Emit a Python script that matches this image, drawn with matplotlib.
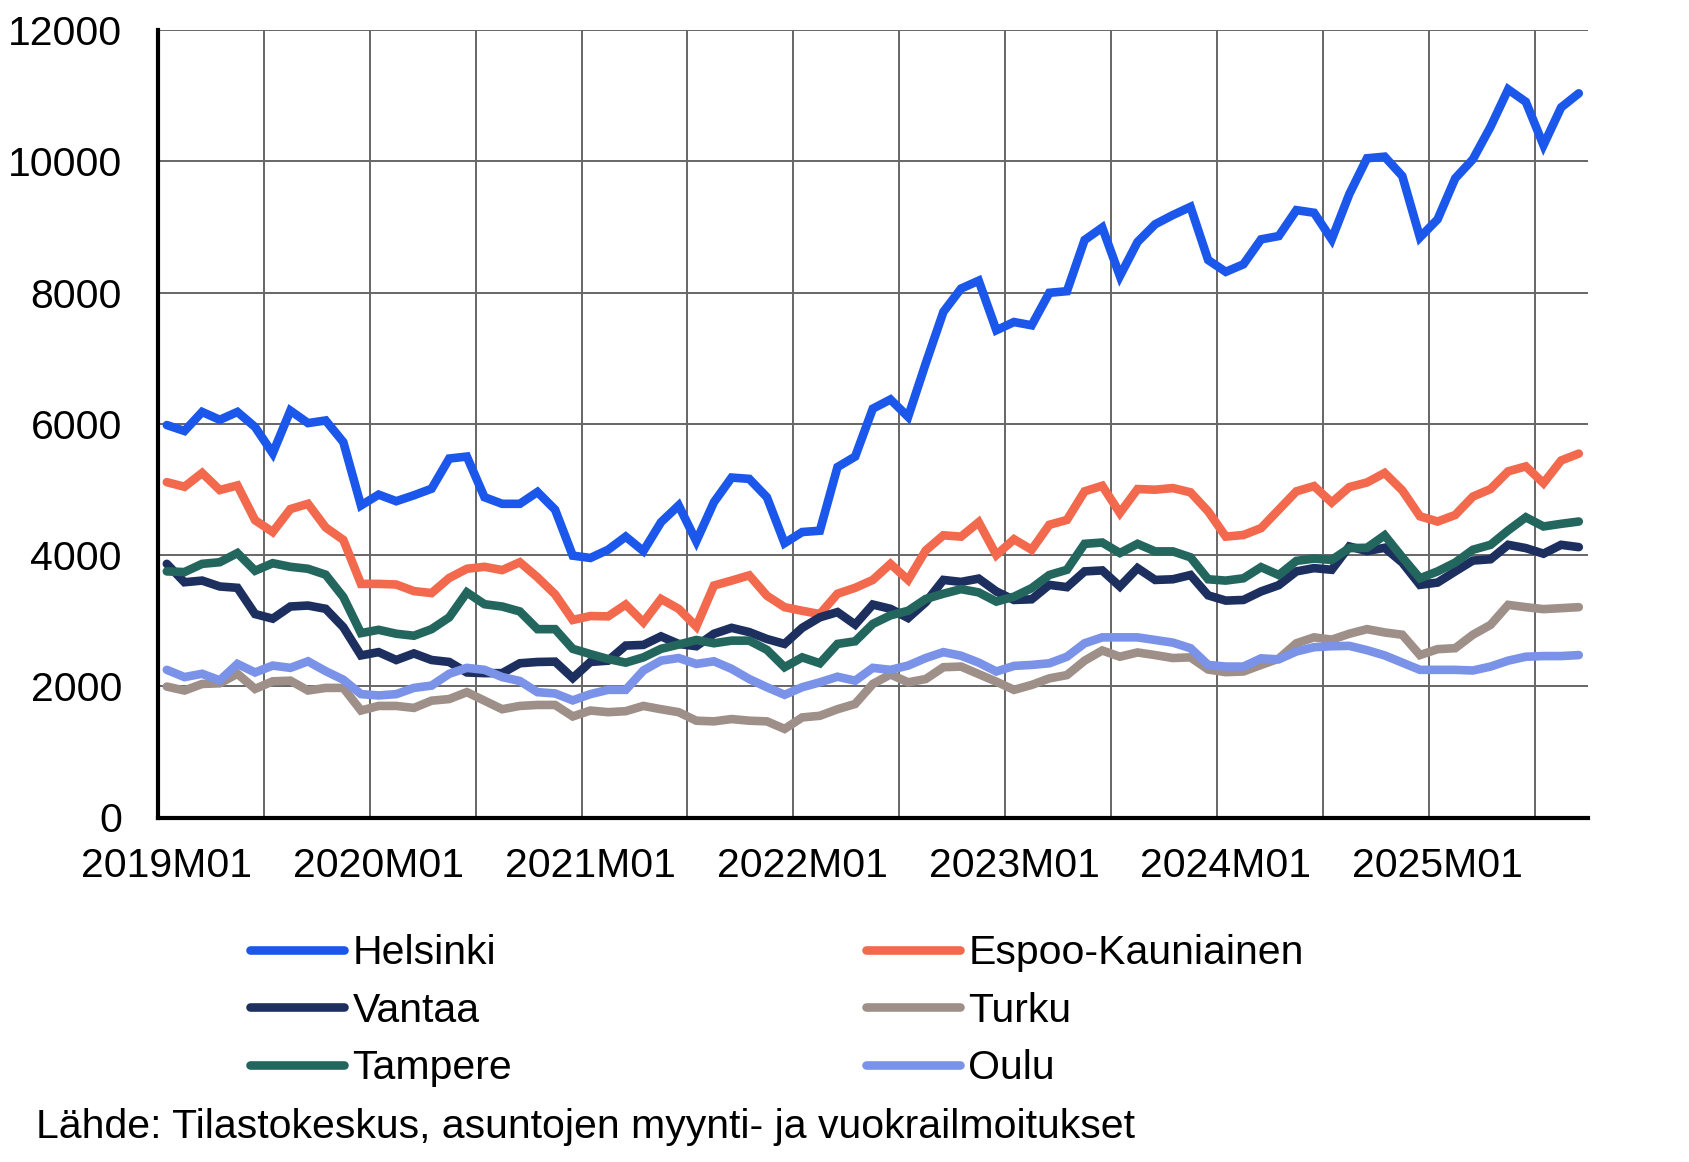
import matplotlib
matplotlib.use('Agg')
import matplotlib.pyplot as plt
import numpy as np

plt.rcParams['font.family'] = ['Liberation Sans', 'DejaVu Sans']

# Monthly values 2019M01 .. 2025M09 (81 months)
helsinki = [5980, 5890, 6180, 6060, 6180, 5950, 5550, 6200, 6010, 6050, 5720, 4755,
            4920, 4820, 4910, 5010, 5470, 5500, 4880, 4780, 4780, 4960, 4690, 3990,
            3955, 4080, 4280, 4060, 4500, 4755, 4210, 4805, 5180, 5160, 4880, 4180,
            4350, 4370, 5340, 5500, 6230, 6370, 6105, 6920, 7705, 8060, 8180, 7425,
            7550, 7500, 7995, 8020, 8800, 8990, 8250, 8770, 9040, 9180, 9305, 8495,
            8315, 8430, 8810, 8860, 9255, 9215, 8810, 9500, 10045, 10070, 9775, 8840,
            9115, 9740, 10030, 10525, 11095, 10905, 10245, 10820, 11035]
espoo = [5110, 5040, 5250, 4990, 5060, 4530, 4350, 4700, 4780, 4420, 4230, 3560,
         3560, 3550, 3450, 3420, 3650, 3790, 3820, 3770, 3890, 3660, 3400, 3010,
         3070, 3065, 3245, 2975, 3330, 3180, 2910, 3535, 3610, 3690, 3380, 3205,
         3150, 3100, 3410, 3500, 3620, 3865, 3620, 4070, 4300, 4280, 4500, 4000,
         4240, 4080, 4460, 4535, 4970, 5055, 4640, 5005, 4995, 5020, 4955, 4665,
         4280, 4305, 4410, 4690, 4970, 5050, 4800, 5035, 5105, 5250, 4985, 4590,
         4510, 4610, 4890, 5005, 5275, 5350, 5095, 5440, 5545]
vantaa = [3865, 3585, 3610, 3520, 3500, 3100, 3030, 3215, 3230, 3180, 2900, 2470,
          2520, 2400, 2500, 2400, 2370, 2210, 2200, 2200, 2350, 2370, 2375, 2125,
          2370, 2390, 2620, 2630, 2760, 2645, 2610, 2800, 2890, 2825, 2720, 2645,
          2890, 3050, 3130, 2940, 3245, 3180, 3040, 3280, 3620, 3590, 3640, 3445,
          3315, 3325, 3545, 3510, 3750, 3765, 3520, 3800, 3620, 3630, 3695, 3385,
          3305, 3315, 3445, 3540, 3750, 3800, 3775, 4130, 4060, 4110, 3885, 3545,
          3580, 3750, 3915, 3935, 4155, 4105, 4020, 4155, 4120]
turku = [1995, 1935, 2035, 2045, 2190, 1960, 2075, 2085, 1935, 1975, 1975, 1630,
         1700, 1700, 1670, 1780, 1805, 1910, 1780, 1650, 1700, 1715, 1715, 1540,
         1630, 1605, 1620, 1700, 1650, 1605, 1475, 1465, 1500, 1475, 1465, 1350,
         1525, 1550, 1650, 1730, 2035, 2180, 2060, 2110, 2290, 2300, 2185, 2070,
         1945, 2020, 2120, 2170, 2390, 2545, 2450, 2515, 2475, 2430, 2440, 2255,
         2215, 2225, 2325, 2420, 2655, 2745, 2710, 2800, 2870, 2820, 2785, 2475,
         2565, 2580, 2785, 2935, 3240, 3205, 3175, 3190, 3205]
tampere = [3750, 3740, 3865, 3890, 4030, 3760, 3875, 3820, 3790, 3700, 3360, 2810,
           2860, 2800, 2770, 2870, 3050, 3430, 3250, 3215, 3140, 2870, 2870, 2570,
           2490, 2415, 2360, 2440, 2570, 2635, 2705, 2655, 2695, 2695, 2555, 2290,
           2440, 2350, 2645, 2685, 2950, 3080, 3150, 3330, 3410, 3480, 3430, 3290,
           3365, 3495, 3695, 3775, 4170, 4190, 4030, 4170, 4055, 4055, 3965, 3630,
           3610, 3645, 3815, 3695, 3910, 3945, 3925, 4105, 4110, 4300, 3965, 3645,
           3750, 3885, 4080, 4155, 4375, 4575, 4435, 4475, 4510]
oulu = [2250, 2140, 2190, 2090, 2340, 2210, 2315, 2280, 2380, 2230, 2100, 1880,
        1860, 1880, 1975, 2010, 2190, 2280, 2250, 2140, 2080, 1910, 1890, 1785,
        1880, 1945, 1945, 2240, 2390, 2430, 2340, 2380, 2265, 2110, 1985, 1870,
        1985, 2060, 2145, 2085, 2280, 2250, 2315, 2430, 2520, 2465, 2360, 2225,
        2310, 2325, 2350, 2450, 2655, 2745, 2745, 2745, 2705, 2665, 2580, 2325,
        2300, 2300, 2425, 2410, 2530, 2595, 2610, 2615, 2550, 2470, 2360, 2250,
        2250, 2250, 2240, 2300, 2390, 2450, 2460, 2460, 2475]

year_labels = ['2019M01', '2020M01', '2021M01', '2022M01', '2023M01', '2024M01', '2025M01']
source_text = 'Lähde: Tilastokeskus, asuntojen myynti- ja vuokrailmoitukset'

series = [
    ('Helsinki', helsinki, '#1b57ea'),
    ('Espoo-Kauniainen', espoo, '#f2694d'),
    ('Vantaa', vantaa, '#1c2f5f'),
    ('Turku', turku, '#9e8f88'),
    ('Tampere', tampere, '#23665e'),
    ('Oulu', oulu, '#7a92e7'),
]

fs = 29.5
fig = plt.figure(figsize=(16.9, 11.62), dpi=100)
ax = fig.add_axes([158 / 1690, 1 - 817.5 / 1162, (1587.6 - 158) / 1690, (817.5 - 30) / 1162])

x = np.arange(len(helsinki))
lines = {}
for name, vals, col in series:
    lines[name], = ax.plot(x, vals, color=col, lw=6.2, solid_joinstyle='miter',
                           solid_capstyle='round', label=name, zorder=3)

ax.set_xlim(-0.5, len(helsinki) - 0.5)
ax.set_ylim(0, 12000)
ax.set_yticks(np.arange(0, 12001, 2000))
ax.set_xticks(np.arange(0, len(helsinki), 12)[:len(year_labels)])
ax.set_xticklabels(year_labels)
ax.set_xticks(np.arange(5.5, len(helsinki), 6), minor=True)

ax.grid(axis='y', color='#666666', lw=1.4, zorder=1)
ax.grid(axis='x', which='minor', color='#666666', lw=1.4, zorder=1)
ax.tick_params(axis='both', which='both', length=0, labelsize=fs)
ax.tick_params(axis='y', pad=26)
ax.tick_params(axis='x', pad=21)

for s in ['top', 'right']:
    ax.spines[s].set_visible(False)
for s in ['left', 'bottom']:
    ax.spines[s].set_linewidth(3)
    ax.spines[s].set_color('black')
    ax.spines[s].set_zorder(4)

leg_kw = dict(frameon=False, fontsize=fs, handlelength=2.3, handletextpad=0.2,
              labelspacing=0.48, borderpad=0, borderaxespad=0, loc='upper left')
leg1 = fig.legend([lines['Helsinki'], lines['Vantaa'], lines['Tampere']],
                  ['Helsinki', 'Vantaa', 'Tampere'],
                  bbox_to_anchor=(250 / 1690, 1 - 934 / 1162), **leg_kw)
leg2 = fig.legend([lines['Espoo-Kauniainen'], lines['Turku'], lines['Oulu']],
                  ['Espoo-Kauniainen', 'Turku', 'Oulu'],
                  bbox_to_anchor=(866 / 1690, 1 - 934 / 1162), **leg_kw)

fig.text(36 / 1690, 1 - 1127 / 1162, source_text, fontsize=fs, va='center', ha='left')

fig.savefig('out.png', dpi=100)
